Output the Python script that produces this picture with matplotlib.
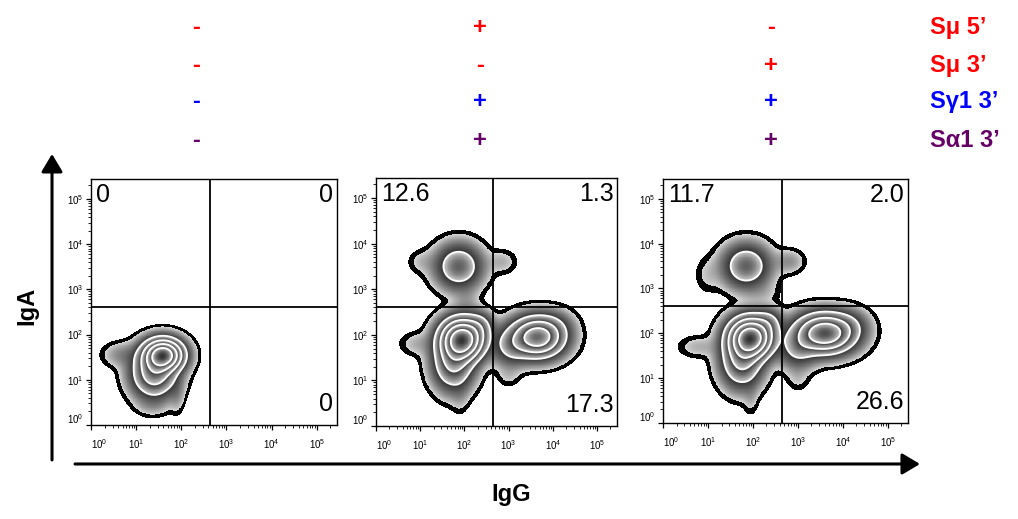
import numpy as np
import matplotlib
matplotlib.use('Agg')
import matplotlib.pyplot as plt
from matplotlib.patches import FancyArrowPatch
from matplotlib.transforms import ScaledTranslation
from matplotlib.ticker import FixedLocator, FuncFormatter, NullFormatter

plt.rcParams['font.family'] = ['Liberation Sans', 'DejaVu Sans']
plt.rcParams['mathtext.fontset'] = 'custom'
plt.rcParams['mathtext.rm'] = 'Liberation Sans'
plt.rcParams['mathtext.it'] = 'Liberation Sans:italic'
plt.rcParams['mathtext.bf'] = 'Liberation Sans:bold'

# ---------------------------------------------------------------
# Header: which switch regions are present in each sample
# ---------------------------------------------------------------
construct_names = ['Sμ 5’', 'Sμ 3’', 'Sγ1 3’', 'Sα1 3’']
construct_colors = ['#ff0000', '#ff0000', '#0000ff', '#660066']
signs_ctrl = ['-', '-', '-', '-']
signs_full = ['+', '-', '+', '+']
signs_swap = ['-', '+', '+', '+']

# quadrant frequencies (upper-left, upper-right, lower-right)
q_ctrl = ['0', '0', '0']
q_full = ['12.6', '1.3', '17.3']
q_swap = ['11.7', '2.0', '26.6']

# quadrant gate (IgG, IgA)
gate_x = 10 ** 2.64
gate_y = 10 ** 2.6

# ---------------------------------------------------------------
# Cell populations (log10 IgG, log10 IgA)
# centre, spread (decades) and relative weight
# ---------------------------------------------------------------
ctrl_cx = [1.60, 1.40, 0.70, 1.35, 1.90]
ctrl_cy = [1.55, 1.15, 1.55, 0.45, 0.70]
ctrl_sx = [0.25, 0.28, 0.25, 0.22, 0.10]
ctrl_sy = [0.20, 0.30, 0.16, 0.15, 0.25]
ctrl_w = [1.00, 0.40, 0.03, 0.015, 0.02]

full_cx = [1.95, 1.75, 0.95, 1.90, 2.35, 1.87, 1.05, 2.85, 2.05, 3.65, 3.05, 4.05, 3.00]
full_cy = [1.90, 1.40, 1.80, 0.70, 2.20, 3.50, 3.60, 3.60, 2.75, 1.95, 1.75, 2.20, 1.10]
full_sx = [0.28, 0.26, 0.25, 0.12, 0.18, 0.30, 0.20, 0.20, 0.18, 0.34, 0.25, 0.25, 0.16]
full_sy = [0.26, 0.34, 0.16, 0.25, 0.18, 0.28, 0.16, 0.16, 0.20, 0.25, 0.25, 0.20, 0.15]
full_w = [1.00, 0.30, 0.015, 0.012, 0.10, 0.21, 0.012, 0.015, 0.015, 0.65, 0.12, 0.04, 0.01]

swap_cx = [1.95, 1.75, 0.80, 1.95, 2.35, 1.85, 2.80, 1.00, 2.20, 3.60, 3.00, 4.15, 3.00]
swap_cy = [1.90, 1.40, 1.70, 0.60, 2.25, 3.50, 3.60, 3.30, 2.90, 2.00, 1.65, 2.20, 1.00]
swap_sx = [0.28, 0.26, 0.28, 0.10, 0.18, 0.30, 0.20, 0.18, 0.25, 0.38, 0.25, 0.25, 0.16]
swap_sy = [0.26, 0.34, 0.15, 0.25, 0.18, 0.28, 0.16, 0.25, 0.16, 0.25, 0.25, 0.20, 0.18]
swap_w = [1.00, 0.30, 0.015, 0.012, 0.10, 0.21, 0.025, 0.01, 0.01, 0.70, 0.12, 0.05, 0.01]

panels = [
    (signs_ctrl, q_ctrl, (ctrl_cx, ctrl_cy, ctrl_sx, ctrl_sy, ctrl_w)),
    (signs_full, q_full, (full_cx, full_cy, full_sx, full_sy, full_w)),
    (signs_swap, q_swap, (swap_cx, swap_cy, swap_sx, swap_sy, swap_w)),
]

# figure-fraction boxes of the three plots
boxes = [
    [0.0894, 0.1811, 0.2417, 0.4740],
    [0.3694, 0.1792, 0.2367, 0.4778],
    [0.6513, 0.1850, 0.2407, 0.4700],
]
sign_x = [0.1925, 0.4715, 0.7574]
row_y = [0.9345, 0.8613, 0.7919, 0.7168]

gx = np.linspace(-0.3, 5.7, 600)
GX, GY = np.meshgrid(gx, gx)


def density(cx, cy, sx, sy, w):
    d = np.zeros_like(GX)
    for a, b, c, e, f in zip(cx, cy, sx, sy, w):
        d += f * np.exp(-0.5 * (((GX - a) / c) ** 2 + ((GY - b) / e) ** 2))
    return d / d.max()


outline = [0.0035, 0.0075]
edges = np.array([0.0075, 0.1, 0.25, 0.45, 0.7, 1.0001])


def zebra(ax, d):
    X, Y = 10 ** GX, 10 ** GY
    ax.contourf(X, Y, d, levels=outline, colors='black')
    # each band goes from light at its low edge to dark at its high edge
    dd = np.clip(d, edges[0], 1.0)
    band = np.clip(np.digitize(dd, edges) - 1, 0, len(edges) - 2)
    lo, hi = edges[band], edges[band + 1]
    t = np.clip(np.log(dd / lo) / np.log(hi / lo), 0, 1)
    shade = np.ma.masked_where(d < edges[0], 0.84 - 0.64 * t)
    ax.pcolormesh(X, Y, shade, cmap='gray', vmin=0, vmax=1, shading='auto', rasterized=True)
    ax.contour(X, Y, d, levels=edges[1:-1], colors='white', linewidths=1.3)


def pow_label(v, _):
    return r'$\mathregular{10^{%d}}$' % round(np.log10(v))


fig = plt.figure(figsize=(10.18, 5.19), dpi=100)

for k, (signs, quads, pops) in enumerate(panels):
    ax = fig.add_axes(boxes[k])
    ax.set_xscale('log')
    ax.set_yscale('log')
    zebra(ax, density(*pops))
    ax.set_xlim(1, 10 ** 5.45)
    ax.set_ylim(1, 10 ** 5.44)
    ax.axvline(gate_x, color='black', lw=1.3)
    ax.axhline(gate_y, color='black', lw=1.3)

    majors = [10.0 ** i for i in range(6)]
    minors = [m * 10.0 ** i for i in range(6) for m in range(2, 10)]
    for axis in (ax.xaxis, ax.yaxis):
        axis.set_major_locator(FixedLocator(majors))
        axis.set_minor_locator(FixedLocator(minors))
        axis.set_major_formatter(FuncFormatter(pow_label))
        axis.set_minor_formatter(NullFormatter())
    ax.tick_params(which='major', length=3.5, width=0.9, labelsize=7, direction='out')
    ax.tick_params(which='minor', length=2, width=0.6, direction='out')
    ax.tick_params(axis='x', pad=5)
    ax.tick_params(axis='y', pad=2)
    for s in ax.spines.values():
        s.set_linewidth(1.0)
    # the lowest decade label sits a little inside, as in the cytometer export
    fig.canvas.draw()
    xl = ax.xaxis.get_major_ticks()[0].label1
    xl.set_transform(xl.get_transform() + ScaledTranslation(0.08, 0, fig.dpi_scale_trans))
    yl = ax.yaxis.get_major_ticks()[0].label1
    yl.set_transform(yl.get_transform() + ScaledTranslation(0, 0.07, fig.dpi_scale_trans))

    ax.text(0.02, 0.985, quads[0], transform=ax.transAxes, ha='left', va='top', fontsize=18)
    ax.text(0.985, 0.985, quads[1], transform=ax.transAxes, ha='right', va='top', fontsize=18)
    ax.text(0.985, 0.035, quads[2], transform=ax.transAxes, ha='right', va='bottom', fontsize=18)

    for r, sgn in enumerate(signs):
        fig.text(sign_x[k], row_y[r], sgn, ha='center', va='baseline',
                 fontsize=17, fontweight='bold', color=construct_colors[r])

for r, name in enumerate(construct_names):
    fig.text(0.9136, row_y[r], name, ha='left', va='baseline',
             fontsize=17, fontweight='bold', color=construct_colors[r])

# axis arrows
arrow_style = '-|>,head_length=0.72,head_width=0.43'
fig.add_artist(FancyArrowPatch((0.0511, 0.1137), (0.0511, 0.7033), transform=fig.transFigure,
                               arrowstyle=arrow_style, mutation_scale=15, lw=2.2, color='black',
                               shrinkA=0, shrinkB=0))
fig.add_artist(FancyArrowPatch((0.0737, 0.106), (0.9037, 0.106), transform=fig.transFigure,
                               arrowstyle=arrow_style, mutation_scale=15, lw=2.2, color='black',
                               shrinkA=0, shrinkB=0))

fig.text(0.026, 0.41, 'IgA', rotation=90, ha='center', va='center', fontsize=17, fontweight='bold')
fig.text(0.502, 0.048, 'IgG', ha='center', va='center', fontsize=17, fontweight='bold')

fig.savefig('out.png', dpi=100)
